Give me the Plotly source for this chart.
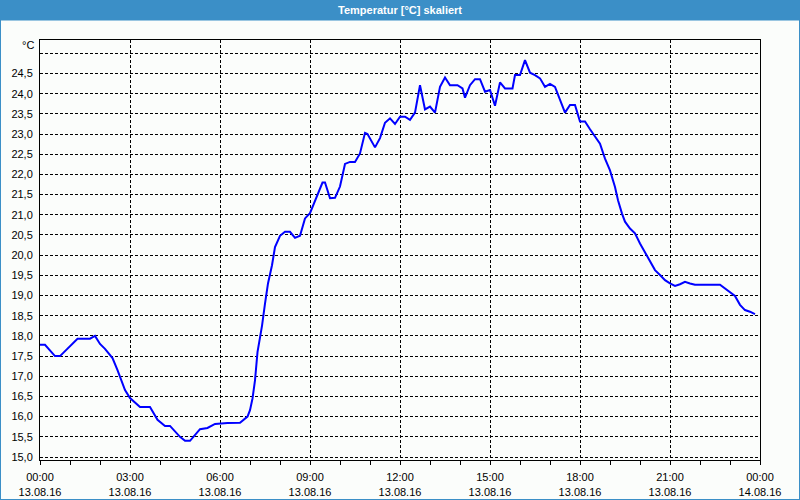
import plotly.graph_objects as go

# ---- data ----
times = ["00:00","00:10","00:30","00:40","01:15","01:40","01:50","02:00","02:10","02:25",
         "02:35","02:50","03:00","03:20","03:40","03:55","04:10","04:20","04:40","04:50",
         "05:00","05:20","05:35","05:50","06:15","06:40","06:55","07:00","07:05","07:10",
         "07:15","07:24","07:30","07:36","07:44","07:50","08:00","08:10","08:20","08:30",
         "08:40","08:50","09:00","09:15","09:25","09:30","09:40","09:50","10:00","10:10",
         "10:20","10:30","10:40","10:50","10:55","11:10","11:20","11:30","11:40","11:50",
         "12:00","12:10","12:20","12:30","12:40","12:50","13:00","13:10","13:20","13:30",
         "13:40","13:55","14:05","14:10","14:20","14:30","14:40","14:50","15:00","15:10",
         "15:20","15:30","15:45","15:50","16:00","16:10","16:20","16:30","16:40","16:50",
         "17:00","17:10","17:20","17:30","17:40","17:50","18:00","18:10","18:20","18:30",
         "18:40","18:50","19:00","19:10","19:16","19:24","19:30","19:40","19:50","20:00",
         "20:10","20:20","20:30","20:40","20:50","21:00","21:10","21:20","21:30","21:40",
         "21:50","22:40","22:50","23:00","23:10","23:20","23:30","23:40","23:50"]
temps = [17.78,17.78,17.50,17.50,17.93,17.93,18.00,17.80,17.68,17.45,
         17.15,16.66,16.46,16.24,16.24,15.92,15.77,15.77,15.50,15.40,
         15.40,15.69,15.72,15.82,15.84,15.85,16.00,16.16,16.45,16.90,
         17.60,18.25,18.80,19.30,19.75,20.20,20.48,20.58,20.58,20.43,
         20.48,20.91,21.04,21.49,21.80,21.80,21.41,21.42,21.70,22.26,
         22.31,22.31,22.52,23.03,23.00,22.67,22.90,23.28,23.39,23.25,
         23.43,23.43,23.35,23.53,24.21,23.61,23.68,23.53,24.17,24.40,
         24.21,24.21,24.13,23.90,24.21,24.36,24.36,24.05,24.09,23.70,
         24.28,24.13,24.13,24.46,24.46,24.83,24.52,24.46,24.38,24.17,
         24.24,24.17,23.86,23.53,23.72,23.72,23.31,23.31,23.12,22.95,
         22.76,22.39,22.10,21.69,21.36,21.03,20.83,20.66,20.54,20.29,
         20.08,19.84,19.63,19.51,19.38,19.30,19.24,19.28,19.34,19.30,
         19.27,19.27,19.18,19.10,18.99,18.77,18.64,18.60,18.54]

day = "2016-08-13"
x_tick_vals = ["2016-08-13 00:00","2016-08-13 03:00","2016-08-13 06:00","2016-08-13 09:00",
               "2016-08-13 12:00","2016-08-13 15:00","2016-08-13 18:00","2016-08-13 21:00",
               "2016-08-14 00:00"]
x_tick_text = ["00:00<br>13.08.16","03:00<br>13.08.16","06:00<br>13.08.16","09:00<br>13.08.16",
               "12:00<br>13.08.16","15:00<br>13.08.16","18:00<br>13.08.16","21:00<br>13.08.16",
               "00:00<br>14.08.16"]
y_tick_vals = [15.0,15.5,16.0,16.5,17.0,17.5,18.0,18.5,19.0,19.5,20.0,20.5,21.0,21.5,22.0,
               22.5,23.0,23.5,24.0,24.5,25.0]
y_tick_text = ["15,0","15,5","16,0","16,5","17,0","17,5","18,0","18,5","19,0","19,5","20,0",
               "20,5","21,0","21,5","22,0","22,5","23,0","23,5","24,0","24,5",""]
title_text = "Temperatur [°C] skaliert"
unit_text = "°C"

# ---- figure ----
W, H = 800, 500
L, R, T, B = 40, 40, 40, 40
pw, ph = W - L - R, H - T - B
def px(x): return (x - L) / pw
def py(y): return (H - B - y) / ph

BLUE = "#3b8fc7"
BG = "#fbfdfb"

fig = go.Figure()
fig.add_trace(go.Scatter(
    x=[f"{day} {t}" for t in times], y=temps, mode="lines",
    line=dict(color="#0000ff", width=2), hoverinfo="skip", showlegend=False))

font = dict(family="Liberation Sans, Arial, sans-serif", size=11, color="black")
fig.update_layout(
    width=W, height=H, margin=dict(l=L, r=R, t=T, b=B, autoexpand=False),
    paper_bgcolor=BG, plot_bgcolor=BG, font=font, showlegend=False,
    xaxis=dict(range=["2016-08-13 00:00", "2016-08-14 00:00"], type="date",
               tickvals=x_tick_vals, ticktext=x_tick_text, tickfont=font, automargin=False,
               showgrid=True, gridcolor="black", gridwidth=1, griddash="3px,2px",
               showline=True, linecolor="black", linewidth=1, mirror=True,
               ticks="outside", ticklen=4, tickcolor="black", zeroline=False,
               ticklabelstandoff=3,
               minor=dict(dtick=3600000, ticks="outside", ticklen=4, tickcolor="black",
                          showgrid=False)),
    yaxis=dict(range=[14.926, 25.33], tickvals=y_tick_vals, ticktext=y_tick_text,
               tickfont=font, showgrid=True, gridcolor="black", gridwidth=1, automargin=False,
               griddash="3px,2px", showline=True, linecolor="black", linewidth=1,
               mirror=True, ticks="", zeroline=False, ticklabelstandoff=4),
)

shapes = [
    dict(type="rect", xref="paper", yref="paper", x0=px(0), x1=px(W), y0=py(20.5), y1=py(0),
         fillcolor=BLUE, line=dict(width=0), layer="above"),
    dict(type="line", xref="paper", yref="paper", x0=px(0.5), x1=px(0.5), y0=py(H), y1=py(0),
         line=dict(color=BLUE, width=1)),
    dict(type="line", xref="paper", yref="paper", x0=px(W - 0.5), x1=px(W - 0.5), y0=py(H), y1=py(0),
         line=dict(color=BLUE, width=1)),
    dict(type="line", xref="paper", yref="paper", x0=px(0), x1=px(W), y0=py(H - 0.5), y1=py(H - 0.5),
         line=dict(color=BLUE, width=1)),
]
fig.update_layout(shapes=shapes)

fig.add_annotation(text=f"<b>{title_text}</b>", xref="paper", yref="paper",
                   x=0.5, y=py(10), xanchor="center", yanchor="middle", showarrow=False,
                   font=dict(family="Liberation Sans, Arial, sans-serif", size=11, color="white"))
fig.add_annotation(text=unit_text, xref="paper", yref="paper", x=px(36), y=py(45),
                   xanchor="right", yanchor="middle", showarrow=False, font=font)

fig.write_html("out.html")
